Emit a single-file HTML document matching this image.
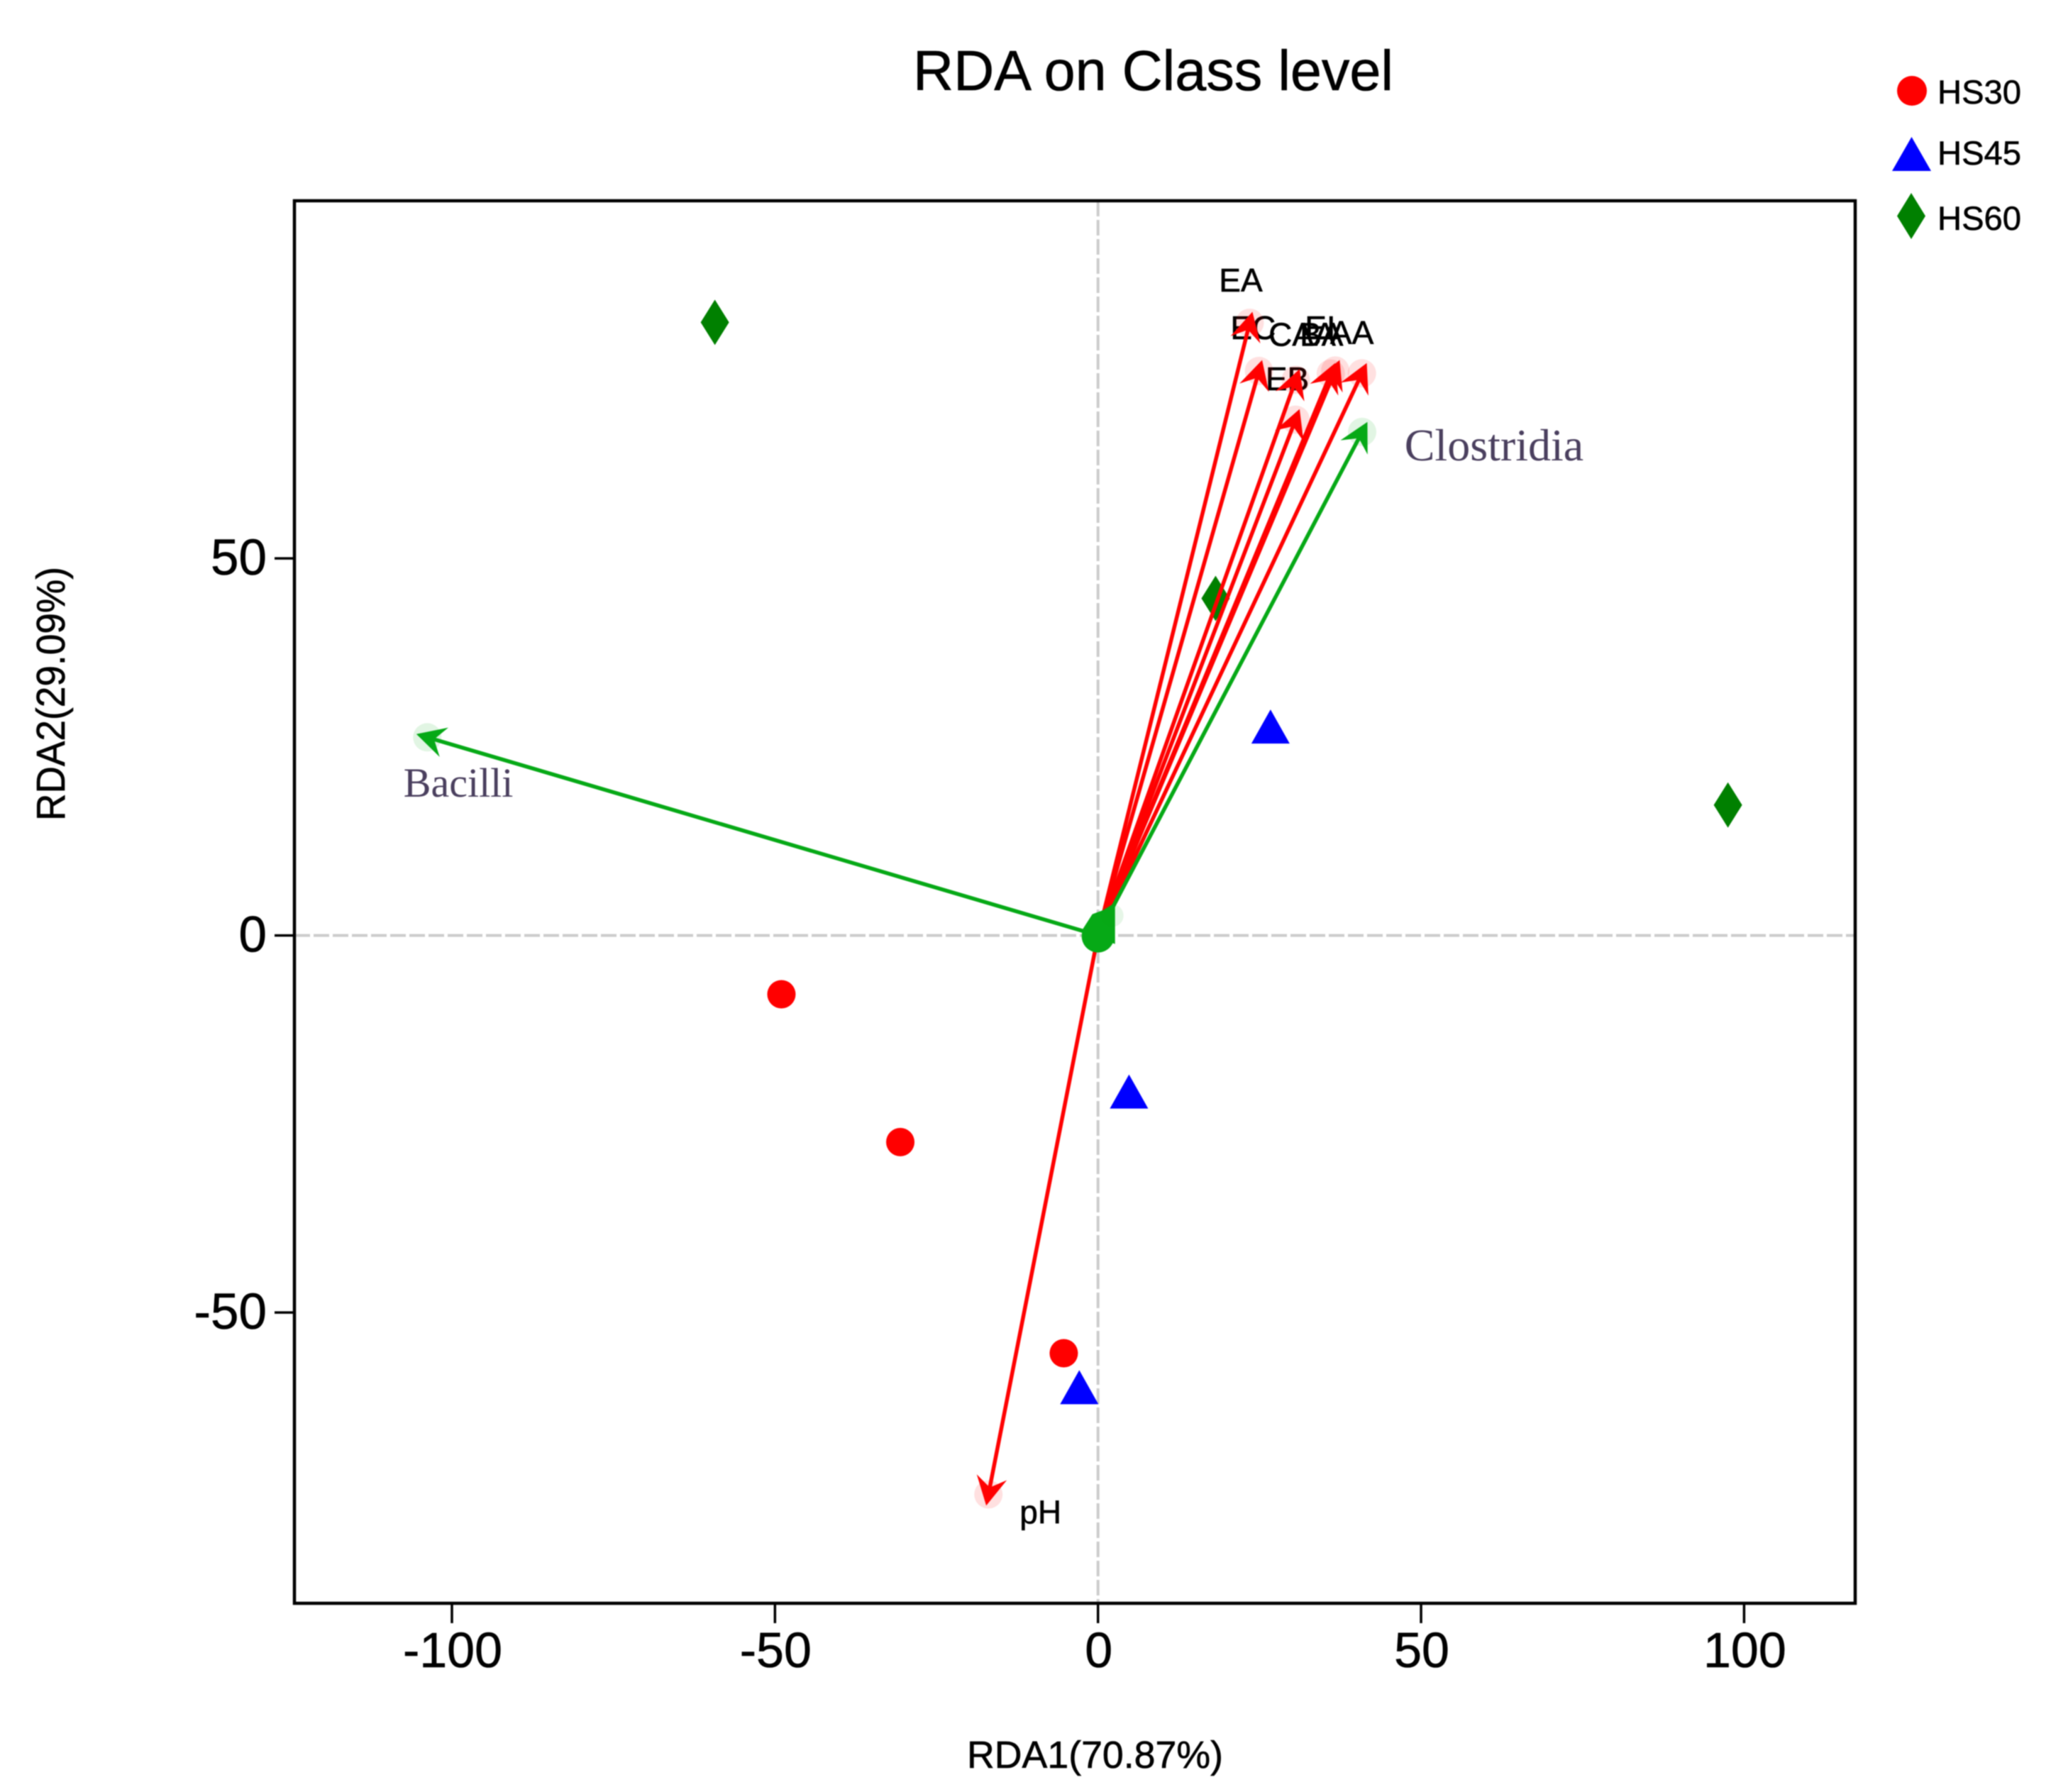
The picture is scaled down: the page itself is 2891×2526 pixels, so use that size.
<!DOCTYPE html>
<html lang="en">
<head>
<meta charset="utf-8">
<title>RDA on Class level</title>
<style>
html,body{margin:0;padding:0;background:#fff;}
body{width:2891px;height:2526px;overflow:hidden;}
svg{display:block;filter:blur(.8px);}
text{font-family:"Liberation Sans",Arial,sans-serif;fill:#000;stroke:#000;stroke-width:.6px;}
text.serif{font-family:"Liberation Serif","Times New Roman",serif;fill:#4a3f5e;stroke:none;}
</style>
</head>
<body>
<svg id="chart" xmlns="http://www.w3.org/2000/svg" width="2891" height="2526" viewBox="0 0 2891 2526">
  <rect x="0" y="0" width="2891" height="2526" fill="#ffffff"/>
  <text x="1625.5" y="127" font-size="80" text-anchor="middle" textLength="677" lengthAdjust="spacingAndGlyphs">RDA on Class level</text>
  <text x="1543.5" y="2492" font-size="54" text-anchor="middle" textLength="361" lengthAdjust="spacingAndGlyphs">RDA1(70.87%)</text>
  <text transform="translate(91,978) rotate(-90)" x="0" y="0" font-size="57" text-anchor="middle" textLength="358" lengthAdjust="spacingAndGlyphs">RDA2(29.09%)</text>
  <g id="grid"></g>
  <g id="ticks"></g>
  <g id="points"></g>
  <g id="labels"></g>
  <g id="arrows"></g>
  <g id="origin"></g>
  <rect x="415" y="283" width="2200" height="1977" fill="none" stroke="#000" stroke-width="4.5"/>
  <g>
    <g>
      <circle cx="2695" cy="128" r="21" fill="#ff0000"/>
      <text x="2731" y="146" font-size="47" textLength="118" lengthAdjust="spacingAndGlyphs">HS30</text>
    </g>
    <g>
      <polygon points="2694.5,193 2722,241 2667,241" fill="#0000ff"/>
      <text x="2731" y="232" font-size="47" textLength="118" lengthAdjust="spacingAndGlyphs">HS45</text>
    </g>
    <g>
      <polygon points="2694,272 2714,304.5 2694,337 2674,304.5" fill="#008000"/>
      <text x="2731" y="324" font-size="47" textLength="118" lengthAdjust="spacingAndGlyphs">HS60</text>
    </g>
  </g>
</svg>
<script>
// Axis tick values
const xTicks = [-100, -50, 0, 50, 100];
const yTicks = [-50, 0, 50];

// Sample scores
const hs30X = [-49.0, -30.6, -5.3];
const hs30Y = [-7.8, -27.4, -55.4];
const hs45X = [26.7, 4.8, -2.9];
const hs45Y = [27.7, -20.7, -59.9];
const hs60X = [-59.3, 18.2, 97.5];
const hs60Y = [81.3, 44.7, 17.3];

// Environmental factor arrows (red)
const envNames = ['EA', 'EC', 'EB', 'CAA', 'BA', 'EI', 'AA', 'pH'];
const envX = [23.9, 25.4, 31.2, 31.2, 36.7, 37.4, 41.6, -17.3];
const envY = [82.7, 76.3, 75.1, 69.8, 75.9, 76.3, 75.9, -75.6];
const envLabelX = [22.1, 24.0, 29.3, 31.6, 34.6, 34.4, 39.3, -8.9];
const envLabelY = [85.4, 79.1, 72.3, 78.2, 78.2, 79.1, 78.4, -78.0];

// Taxa arrows (green)
const taxaNames = ['Clostridia', 'Bacilli'];
const taxaX = [41.7, -105.5];
const taxaY = [68.1, 26.7];
const taxaLabelX = [61.3, -99.0];
const taxaLabelY = [63.0, 18.4];

const xOriginPx = 1547.7, xScale = 9.107;
const yOriginPx = 1318.6, yScale = 10.63;
const frameLeft = 415, frameRight = 2615, frameTop = 283, frameBottom = 2260;
const NS = 'http://www.w3.org/2000/svg';

function sx(v) { return xOriginPx + v * xScale; }
function sy(v) { return yOriginPx - v * yScale; }
function make(tag, parentId) {
  const node = document.createElementNS(NS, tag);
  document.getElementById(parentId).appendChild(node);
  return node;
}
function setAll(node, attrs) {
  Object.keys(attrs).forEach(function (k) { node.setAttribute(k, attrs[k]); });
}

// Zero reference lines
(function () {
  let el = make('line', 'grid');
  
  
  setAll(el, { x1: sx(0), x2: sx(0), y1: frameTop, y2: frameBottom, stroke: '#cccccc', 'stroke-width': 4, 'stroke-dasharray': '22 5' });
  el = make('line', 'grid');
  
  
  setAll(el, { x1: frameLeft, x2: frameRight, y1: sy(0), y2: sy(0), stroke: '#cccccc', 'stroke-width': 4, 'stroke-dasharray': '22 5' });
})();

// Ticks and tick labels
xTicks.forEach(function (v) {
  const t = make('line', 'ticks');
  
  
  setAll(t, { x1: sx(v), x2: sx(v), y1: frameBottom, y2: frameBottom + 28, stroke: '#000', 'stroke-width': 3.5 });
  const l = make('text', 'ticks');
  
  
  setAll(l, { x: sx(v) + 1, y: 2350, 'font-size': 70, 'text-anchor': 'middle' });
  l.textContent = String(v);
});
yTicks.forEach(function (v) {
  const t = make('line', 'ticks');
  
  
  setAll(t, { x1: frameLeft - 28, x2: frameLeft, y1: sy(v), y2: sy(v), stroke: '#000', 'stroke-width': 3.5 });
  const l = make('text', 'ticks');
  
  
  setAll(l, { x: 376, y: sy(v) + 23, 'font-size': 71, 'text-anchor': 'end' });
  l.textContent = String(v);
});

// Sample markers
hs30X.forEach(function (v, i) {
  const el = make('circle', 'points');
  
  
  setAll(el, { cx: sx(v), cy: sy(hs30Y[i]), r: 20, fill: '#ff0000' });
});
hs45X.forEach(function (v, i) {
  const x = sx(v), y = sy(hs45Y[i]);
  const el = make('polygon', 'points');
  
  
  setAll(el, { points: [x, y - 24, x + 27, y + 24, x - 27, y + 24].join(' '), fill: '#0000ff' });
});
hs60X.forEach(function (v, i) {
  const x = sx(v), y = sy(hs60Y[i]);
  const el = make('polygon', 'points');
  
  
  setAll(el, { points: [x, y - 32, x + 20, y, x, y + 32, x - 20, y].join(' '), fill: '#008000' });
});

// Arrow labels
envNames.forEach(function (name, i) {
  const el = make('text', 'labels');
  
  
  setAll(el, { x: sx(envLabelX[i]), y: sy(envLabelY[i]), 'font-size': 46, 'text-anchor': 'middle' });
  el.textContent = name;
});
taxaNames.forEach(function (name, i) {
  const el = make('text', 'labels');
  
  
  setAll(el, { x: sx(taxaLabelX[i]), y: sy(taxaLabelY[i]), 'font-size': i === 0 ? 64 : 58, 'text-anchor': 'middle', class: 'serif' });
  el.textContent = name;
});

// Arrow drawing from origin to (vx, vy)
function drawArrow(vx, vy, color) {
  const x0 = sx(0), y0 = sy(0), x1 = sx(vx), y1 = sy(vy);
  const len = Math.hypot(x1 - x0, y1 - y0);
  const ux = (x1 - x0) / len, uy = (y1 - y0) / len;
  const barb = 46, half = 28 * Math.PI / 180, c = Math.cos(half), s = Math.sin(half);
  const b1x = x1 - barb * (ux * c - uy * s), b1y = y1 - barb * (uy * c + ux * s);
  const b2x = x1 - barb * (ux * c + uy * s), b2y = y1 - barb * (uy * c - ux * s);
  const nx = x1 - ux * 26, ny = y1 - uy * 26;

  const halo = make('circle', 'arrows');
  
  
  setAll(halo, { cx: x1 - ux * 16, cy: y1 - uy * 16, r: 20, fill: color, 'fill-opacity': 0.12 });

  const shaft = make('line', 'arrows');
  
  
  setAll(shaft, { x1: x0, y1: y0, x2: x1 - ux * 10, y2: y1 - uy * 10, stroke: color, 'stroke-width': 5.5 });

  const head = make('polygon', 'arrows');
  
  
  setAll(head, { points: [x1, y1, b1x, b1y, nx, ny, b2x, b2y].join(' '), fill: color });
}
envX.forEach(function (v, i) { drawArrow(v, envY[i], '#ff0000'); });
taxaX.forEach(function (v, i) { drawArrow(v, taxaY[i], '#06a916'); });

// Overlapping arrow bases at the origin
(function () {
  const x = sx(0), y = sy(0);
  let el = make('circle', 'origin');
  
  
  setAll(el, { cx: x, cy: y + 1, r: 23, fill: '#06a916' });
  el = make('polygon', 'origin');
  
  
  setAll(el, { points: [x - 24, y - 5, x - 8, y - 30, x + 8, y - 36, x + 24, y - 46, x + 24, y + 12].join(' '), fill: '#06a916' });
  el = make('circle', 'origin');
  
  
  setAll(el, { cx: x + 20, cy: y - 28, r: 16, fill: '#06a916', 'fill-opacity': 0.1 });
})();
</script>
</body>
</html>
